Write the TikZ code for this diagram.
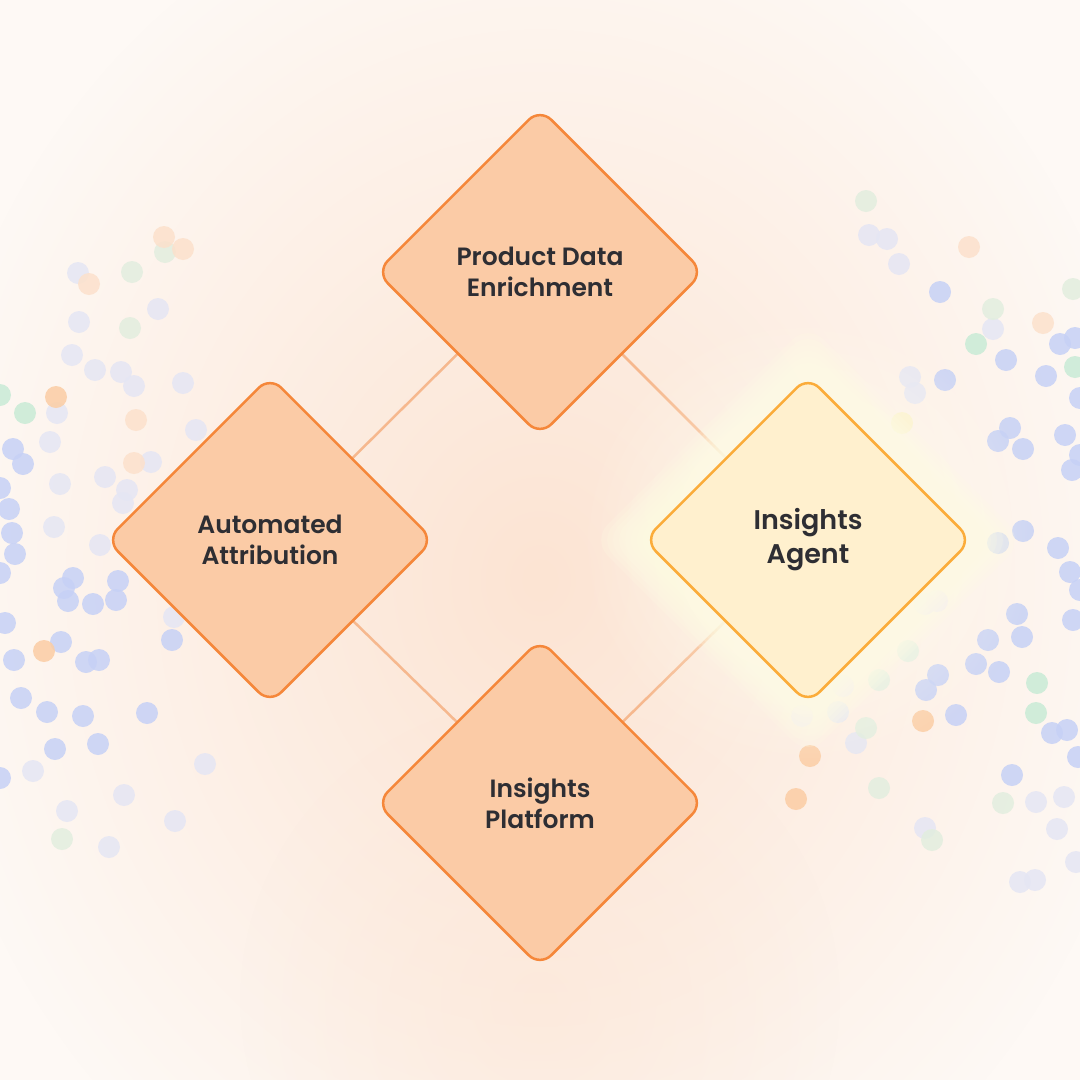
\documentclass[tikz,border=0pt]{standalone}
\usepackage{fontspec}
\setmainfont{Poppins}[BoldFont={Poppins SemiBold}]
\usetikzlibrary{shapes.geometric,fadings,calc}
\definecolor{bgbase}{HTML}{FEF9F5}
\definecolor{bgpeach}{HTML}{FCE4D3}
\definecolor{peachfill}{HTML}{FBCBA6}
\definecolor{orangeline}{HTML}{F5873A}
\definecolor{agentfill}{HTML}{FFF0CE}
\definecolor{agentline}{HTML}{FBAC3A}
\definecolor{glow}{HTML}{FFFCE4}
\definecolor{glowhalo}{HTML}{FFFEF0}
\definecolor{connline}{HTML}{F6B88E}
\definecolor{textdark}{HTML}{2E2E33}
\definecolor{dblue}{HTML}{C6D1F6}
\definecolor{dlav}{HTML}{E5E6F4}
\definecolor{dgreen}{HTML}{C9EBD6}
\definecolor{dgreenl}{HTML}{E2EEDF}
\definecolor{dorange}{HTML}{FBCDA4}
\definecolor{dorangel}{HTML}{FCE1CC}
\definecolor{dyellow}{HTML}{FCF2C8}
\definecolor{dpurple}{HTML}{EEE4F8}
\tikzfading[name=softfade, inner color=transparent!0, outer color=transparent!100]
\pgfdeclarelayer{back}
\pgfdeclarelayer{lines}
\pgfdeclarelayer{glowl}
\pgfsetlayers{back,lines,glowl,main}
\begin{document}
\begin{tikzpicture}[x=1bp,y=-1bp,
  dia/.style={diamond, aspect=1, minimum width=328bp, minimum height=328bp, inner sep=0pt,
    draw=orangeline, line width=2.5bp, fill=peachfill, rounded corners=16bp, align=center,
    font=\fontsize{25bp}{31bp}\selectfont\bfseries, text=textdark},
  agentdia/.style={dia, draw=agentline, fill=agentfill,
    font=\fontsize{27bp}{34bp}\selectfont\bfseries},
  conn/.style={draw=connline, line width=2.5bp},
  dotc/.style={fill=#1, fill opacity=0.85}]
\useasboundingbox (0,0) rectangle (1080,1080);
\begin{pgfonlayer}{back}
\begin{scope}
  \clip (0,0) rectangle (1080,1080);
  \fill[bgbase] (0,0) rectangle (1080,1080);
  \fill[bgpeach, path fading=softfade] (540,580) ellipse (620 and 720);
  \fill[bgpeach, path fading=softfade, fill opacity=0.5] (540,1000) ellipse (300 and 300);
  % dots left
  \foreach \x/\y in {13/449,23/464,0/488,9/509,12/533,15/554,0/573,73/578,64/588,118/581,68/601,93/604,116/600,5/623,61/642,172/640,14/660,86/662,99/660,21/698,47/712,83/716,147/713,55/749,98/744,0/778}
    \fill[dotc=dblue] (\x,\y) circle (11);
  \foreach \x/\y in {78/273,158/309,79/322,72/355,95/370,121/372,134/386,183/383,57/413,196/430,50/442,151/462,60/484,105/477,127/490,123/503,54/527,100/545,174/617,33/771,205/764,124/795,67/811,109/847,175/821}
    \fill[dotc=dlav] (\x,\y) circle (11);
  \foreach \x/\y in {0/395,25/413}
    \fill[dotc=dgreen] (\x,\y) circle (11);
  \foreach \x/\y in {165/252,132/272,130/328,62/839}
    \fill[dotc=dgreenl] (\x,\y) circle (11);
  \foreach \x/\y in {56/397,44/651}
    \fill[dotc=dorange] (\x,\y) circle (11);
  \foreach \x/\y in {164/237,183/249,89/284,136/420,134/463}
    \fill[dotc=dorangel] (\x,\y) circle (11);
  % dots right
  \foreach \x/\y in {940/292,1006/360,1060/344,1075/338,1046/376,945/380,1080/398,1010/428,998/441,1023/449,1065/435,1080/455,1072/470,998/543,1023/531,1058/548,1070/572,1080/590,1073/620,1017/614,988/640,1022/637,976/664,999/672,938/675,926/690,1052/733,1067/730,1078/757,956/715,1012/775}
    \fill[dotc=dblue] (\x,\y) circle (11);
  \foreach \x/\y in {869/235,887/239,899/264,993/329,910/377,915/393,838/712,856/743,1036/802,1064/797,1057/829,925/828,1020/882,1035/880,1076/862}
    \fill[dotc=dlav] (\x,\y) circle (11);
  \foreach \x/\y in {976/344,1075/367,1037/683,1036/713}
    \fill[dotc=dgreen] (\x,\y) circle (11);
  \foreach \x/\y in {866/201,1073/289,993/309,908/651,879/680,866/728,879/788,1003/803,932/840}
    \fill[dotc=dgreenl] (\x,\y) circle (11);
  \foreach \x/\y in {923/721,810/756,796/799}
    \fill[dotc=dorange] (\x,\y) circle (11);
  \foreach \x/\y in {969/247,1043/323}
    \fill[dotc=dorangel] (\x,\y) circle (11);
  \foreach \x/\y in {902/423,906/590,860/620}
    \fill[dotc=dyellow] (\x,\y) circle (11);
  \foreach \x/\y in {925/604,937/601,843/686,802/716}
    \fill[dotc=dpurple] (\x,\y) circle (11);
\end{scope}
\end{pgfonlayer}

\node[dia] (pde) at (540,272) {Product Data\\Enrichment};
\node[dia] (aa) at (270,540) {Automated\\Attribution};
\node[agentdia] (ia) at (808,540) {Insights\\Agent};
\node[dia] (ip) at (540,803) {Insights\\Platform};

\begin{pgfonlayer}{lines}
  \draw[conn] (pde.center) -- (aa.center);
  \draw[conn] (pde.center) -- (ia.center);
  \draw[conn] (aa.center) -- (ip.center);
  \draw[conn] (ia.center) -- (ip.center);
\end{pgfonlayer}

\begin{pgfonlayer}{glowl}
  \fill[glowhalo, path fading=softfade, fill opacity=0.8] (ia.center) circle (230);
  \foreach \k in {1,...,8}
    \fill[glow, fill opacity=0.2, rounded corners=22bp]
      ($(ia.center)+(0,-168-6*\k)$) -- ($(ia.center)+(168+6*\k,0)$) -- ($(ia.center)+(0,168+6*\k)$) -- ($(ia.center)+(-168-6*\k,0)$) -- cycle;
\end{pgfonlayer}
\end{tikzpicture}
\end{document}
